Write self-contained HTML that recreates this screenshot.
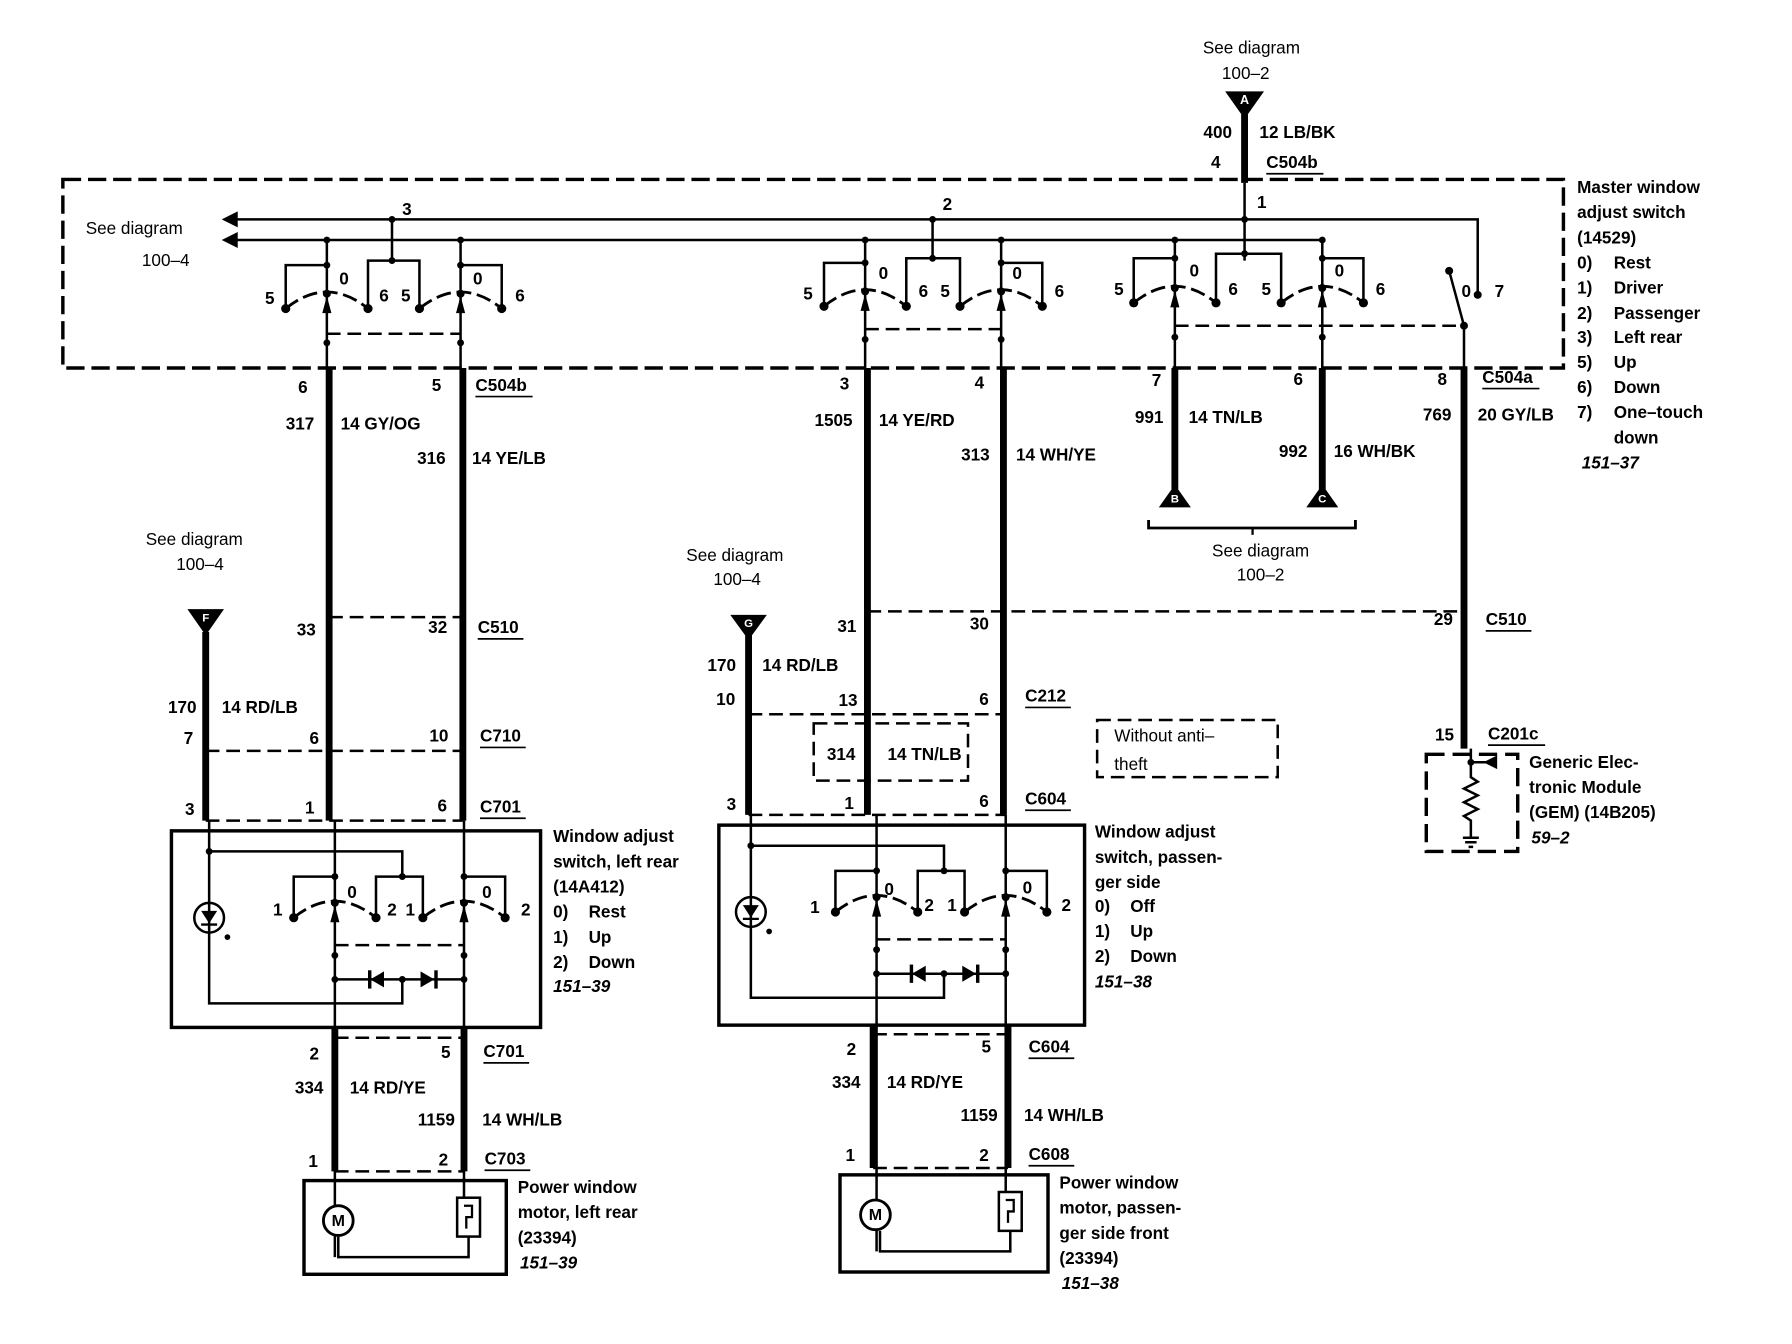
<!DOCTYPE html>
<html><head><meta charset="utf-8"><style>
html,body{margin:0;padding:0;background:#fff;}
svg{display:block;}
text{font-family:"Liberation Sans",Arial,sans-serif;font-size:15px;font-weight:bold;fill:#000;dominant-baseline:middle;}
.it{font-style:italic;}
.n{font-weight:normal;}
</style></head><body>
<svg width="1792" height="1344" viewBox="0 0 1568 1176" preserveAspectRatio="none" xmlns="http://www.w3.org/2000/svg">
<rect width="1568" height="1176" fill="#fff"/>
<defs>
<g id="sw">
 <path d="M-36,13 Q0,-16 36,13" fill="none" stroke="#000" stroke-width="2.5" stroke-dasharray="13 5"/>
 <circle cx="-36" cy="13" r="4"/><circle cx="36" cy="13" r="4"/><circle cx="0" cy="0" r="3.5"/>
 <polygon points="-4,17 4,17 0,2"/>
</g>
<g id="low">
 <g fill="none" stroke="#000" stroke-width="2.2">
  <path d="M183,718 V878 H352 V857"/>
  <path d="M183,745 H352 V767"/>
  <path d="M257,803 V767 H293"/>
  <path d="M329,803 V767 H370 V803"/>
  <path d="M406,767 H442 V803"/>
  <path d="M293,857 H406"/>
  <path d="M293,827 H406" stroke-dasharray="12 6"/>
  <circle cx="183" cy="803" r="13"/>
 </g>
 <polygon points="176,797 190,797 183,808"/><path d="M176,809 H190" stroke="#000" stroke-width="2"/>
 <circle cx="199" cy="820" r="2.5"/>
 <circle cx="183" cy="745" r="3"/><circle cx="352" cy="767" r="3"/>
 <use href="#sw" x="293" y="790"/><use href="#sw" x="406" y="790"/>
 <circle cx="293" cy="767" r="3"/><circle cx="406" cy="767" r="3"/>
 <circle cx="293" cy="836" r="3"/><circle cx="406" cy="836" r="3"/>
 <circle cx="293" cy="857" r="3"/><circle cx="406" cy="857" r="3"/><circle cx="352" cy="857" r="3"/>
 <polygon points="324,857 336,850 336,864"/><rect x="322" y="849" width="3" height="16"/>
 <polygon points="380,857 368,850 368,864"/><rect x="380" y="849" width="3" height="16"/>
 <g stroke="#000" stroke-width="2.2" fill="none">
  <path d="M293,718 V1100"/><path d="M406,718 V1080"/>
  <path d="M296,1082 V1100 H410 V1082"/>
 </g>
</g>
</defs>

<text x="1095" y="43" text-anchor="middle" class="n">See diagram</text>
<text x="1090" y="65" text-anchor="middle" class="n">100–2</text>
<polygon points="1072,80 1106,80 1089,104"/>
<text x="1089" y="88" text-anchor="middle" style="fill:#fff;font-size:11px">A</text>
<path d="M1089,100 V160" stroke="#000" stroke-width="6"/>
<path d="M1089,160 V228" stroke="#000" stroke-width="2.2"/>
<text x="1078" y="117" text-anchor="end">400</text><text x="1102" y="117">12 LB/BK</text>
<text x="1068" y="143" text-anchor="end">4</text><text x="1108" y="143">C504b</text>
<path d="M1108,152 H1158" stroke="#000" stroke-width="1.5"/>

<rect x="55" y="157" width="1313" height="165" fill="none" stroke="#000" stroke-width="3" stroke-dasharray="16 6"/>
<text x="75" y="201" class="n">See diagram</text>
<text x="145" y="229" text-anchor="middle" class="n">100–4</text>

<g fill="none" stroke="#000" stroke-width="2.2">
 <path d="M204,192 H1293 V255"/>
 <path d="M204,210 H1157"/>
 <path d="M286,210 V322 M403,210 V322"/>
 <path d="M250,270 V232 H286 M322,270 V228 H367 V270 M343,192 V228 M403,232 H439 V270"/>
 <path d="M286,292 H403" stroke-dasharray="12 6"/>
 <path d="M757,210 V322 M876,210 V322"/>
 <path d="M721,268 V230 H757 M793,268 V226 H840 V268 M816,192 V226 M876,230 H912 V268"/>
 <path d="M757,288 H876" stroke-dasharray="12 6"/>
 <path d="M1028,210 V322 M1157,210 V322"/>
 <path d="M992,265 V226 H1028 M1064,265 V222 H1121 V265 M1157,226 H1193 V265"/>
 <path d="M1028,285 H1281" stroke-dasharray="12 6"/>
 <path d="M1268,237 L1281,285 V322"/>
</g>
<polygon points="194,192 208,185 208,199"/><polygon points="194,210 208,203 208,217"/>
<text x="356" y="184" text-anchor="middle">3</text><text x="829" y="180" text-anchor="middle">2</text><text x="1104" y="178" text-anchor="middle">1</text>
<g>
 <circle cx="343" cy="192" r="3"/><circle cx="816" cy="192" r="3"/><circle cx="1089" cy="192" r="3"/>
 <circle cx="286" cy="210" r="3"/><circle cx="403" cy="210" r="3"/><circle cx="757" cy="210" r="3"/><circle cx="876" cy="210" r="3"/><circle cx="1028" cy="210" r="3"/><circle cx="1157" cy="210" r="3"/>
 <circle cx="343" cy="228" r="3"/><circle cx="816" cy="226" r="3"/><circle cx="1089" cy="222" r="3"/>
 <circle cx="286" cy="232" r="3"/><circle cx="403" cy="232" r="3"/><circle cx="757" cy="230" r="3"/><circle cx="876" cy="230" r="3"/><circle cx="1028" cy="226" r="3"/><circle cx="1157" cy="226" r="3"/>
 <circle cx="286" cy="300" r="3"/><circle cx="403" cy="300" r="3"/><circle cx="757" cy="297" r="3"/><circle cx="876" cy="297" r="3"/><circle cx="1028" cy="295" r="3"/><circle cx="1157" cy="295" r="3"/>
 <circle cx="1268" cy="237" r="3.5"/><circle cx="1293" cy="258" r="3.5"/><circle cx="1281" cy="285" r="3.5"/>
</g>
<use href="#sw" x="286" y="257"/><use href="#sw" x="403" y="257"/>
<use href="#sw" x="757" y="255"/><use href="#sw" x="876" y="255"/>
<use href="#sw" x="1028" y="252"/><use href="#sw" x="1157" y="252"/>
<text x="236" y="262" text-anchor="middle">5</text><text x="301" y="245" text-anchor="middle">0</text><text x="336" y="260" text-anchor="middle">6</text><text x="355" y="260" text-anchor="middle">5</text><text x="418" y="245" text-anchor="middle">0</text><text x="455" y="260" text-anchor="middle">6</text>
<text x="707" y="258" text-anchor="middle">5</text><text x="773" y="240" text-anchor="middle">0</text><text x="808" y="256" text-anchor="middle">6</text><text x="827" y="256" text-anchor="middle">5</text><text x="890" y="240" text-anchor="middle">0</text><text x="927" y="256" text-anchor="middle">6</text>
<text x="979" y="254" text-anchor="middle">5</text><text x="1045" y="238" text-anchor="middle">0</text><text x="1079" y="254" text-anchor="middle">6</text><text x="1108" y="254" text-anchor="middle">5</text><text x="1172" y="238" text-anchor="middle">0</text><text x="1208" y="254" text-anchor="middle">6</text>
<text x="1283" y="256" text-anchor="middle">0</text><text x="1312" y="256" text-anchor="middle">7</text>

<text x="1380" y="165">Master window</text>
<text x="1380" y="187">adjust switch</text>
<text x="1380" y="209">(14529)</text>
<text x="1380" y="231">0)</text><text x="1412" y="231">Rest</text>
<text x="1380" y="253">1)</text><text x="1412" y="253">Driver</text>
<text x="1380" y="275">2)</text><text x="1412" y="275">Passenger</text>
<text x="1380" y="296">3)</text><text x="1412" y="296">Left rear</text>
<text x="1380" y="318">5)</text><text x="1412" y="318">Up</text>
<text x="1380" y="340">6)</text><text x="1412" y="340">Down</text>
<text x="1380" y="362">7)</text><text x="1412" y="362">One–touch</text>
<text x="1412" y="384">down</text>
<text x="1384" y="406" class="it">151–37</text>

<g stroke="#000" stroke-width="6" fill="none">
 <path d="M288,322 V718 M405,322 V718"/>
 <path d="M180,553 V718"/>
 <path d="M293,899 V1025 M406,899 V1025"/>
 <path d="M759,322 V713 M878,322 V713"/>
 <path d="M655,556 V713"/>
 <path d="M764,897 V1022 M882,897 V1022"/>
 <path d="M1028,322 V428 M1157,322 V428"/>
 <path d="M1281,322 V655"/>
</g>
<g stroke="#000" stroke-width="2.2" fill="none" stroke-dasharray="12 6">
 <path d="M288,540 H405"/><path d="M180,657 H405"/><path d="M180,718 H405"/>
 <path d="M293,908 H406"/><path d="M293,1025 H406"/>
 <path d="M759,535 H1281"/><path d="M655,625 H880"/><path d="M655,713 H880"/>
 <path d="M764,905 H882"/><path d="M764,1022 H882"/>
 <rect x="712" y="633" width="135" height="50"/>
 <rect x="960" y="630" width="158" height="50"/>
</g>
<rect x="1248" y="660" width="80" height="85" fill="none" stroke="#000" stroke-width="3" stroke-dasharray="16 7"/>

<text x="265" y="340" text-anchor="middle">6</text><text x="382" y="338" text-anchor="middle">5</text><text x="416" y="338">C504b</text><path d="M416,347 H466" stroke="#000" stroke-width="1.5"/>
<text x="275" y="372" text-anchor="end">317</text><text x="298" y="372">14 GY/OG</text>
<text x="390" y="402" text-anchor="end">316</text><text x="413" y="402">14 YE/LB</text>
<text x="170" y="473" text-anchor="middle" class="n">See diagram</text><text x="175" y="495" text-anchor="middle" class="n">100–4</text>
<polygon points="164,533 196,533 180,556"/><text x="180" y="541" text-anchor="middle" style="fill:#fff;font-size:10px">F</text>
<text x="268" y="552" text-anchor="middle">33</text><text x="383" y="550" text-anchor="middle">32</text><text x="418" y="550">C510</text><path d="M418,559 H458" stroke="#000" stroke-width="1.5"/>
<text x="172" y="620" text-anchor="end">170</text><text x="194" y="620">14 RD/LB</text>
<text x="165" y="647" text-anchor="middle">7</text><text x="275" y="647" text-anchor="middle">6</text><text x="384" y="645" text-anchor="middle">10</text><text x="420" y="645">C710</text><path d="M420,654 H460" stroke="#000" stroke-width="1.5"/>
<text x="166" y="709" text-anchor="middle">3</text><text x="271" y="708" text-anchor="middle">1</text><text x="387" y="706" text-anchor="middle">6</text><text x="420" y="707">C701</text><path d="M420,716 H460" stroke="#000" stroke-width="1.5"/>

<rect x="150" y="727" width="323" height="172" fill="none" stroke="#000" stroke-width="3"/>
<use href="#low"/>
<text x="243" y="797" text-anchor="middle">1</text><text x="308" y="782" text-anchor="middle">0</text><text x="343" y="797" text-anchor="middle">2</text><text x="359" y="797" text-anchor="middle">1</text><text x="426" y="782" text-anchor="middle">0</text><text x="460" y="797" text-anchor="middle">2</text>
<text x="484" y="733">Window adjust</text><text x="484" y="755">switch, left rear</text><text x="484" y="777">(14A412)</text>
<text x="484" y="799">0)</text><text x="515" y="799">Rest</text><text x="484" y="821">1)</text><text x="515" y="821">Up</text><text x="484" y="843">2)</text><text x="515" y="843">Down</text>
<text x="484" y="864" class="it">151–39</text>
<text x="275" y="923" text-anchor="middle">2</text><text x="390" y="922" text-anchor="middle">5</text><text x="423" y="921">C701</text><path d="M423,930 H463" stroke="#000" stroke-width="1.5"/>
<text x="283" y="953" text-anchor="end">334</text><text x="306" y="953">14 RD/YE</text>
<text x="398" y="981" text-anchor="end">1159</text><text x="422" y="981">14 WH/LB</text>
<text x="274" y="1017" text-anchor="middle">1</text><text x="388" y="1016" text-anchor="middle">2</text><text x="424" y="1015">C703</text><path d="M424,1024 H464" stroke="#000" stroke-width="1.5"/>
<rect x="266" y="1033" width="177" height="82" fill="none" stroke="#000" stroke-width="3"/>
<circle cx="296" cy="1068" r="13" fill="#fff" stroke="#000" stroke-width="2.5"/><text x="296" y="1069" text-anchor="middle" style="font-size:14px">M</text>
<rect x="400" y="1048" width="20" height="34" fill="#fff" stroke="#000" stroke-width="2.2"/><path d="M406,1055 H413 V1065 H408 V1075" fill="none" stroke="#000" stroke-width="2"/>
<text x="453" y="1040">Power window</text><text x="453" y="1062">motor, left rear</text><text x="453" y="1084">(23394)</text><text x="455" y="1106" class="it">151–39</text>

<text x="739" y="337" text-anchor="middle">3</text><text x="857" y="336" text-anchor="middle">4</text>
<text x="746" y="369" text-anchor="end">1505</text><text x="769" y="369">14 YE/RD</text>
<text x="866" y="399" text-anchor="end">313</text><text x="889" y="399">14 WH/YE</text>
<text x="643" y="487" text-anchor="middle" class="n">See diagram</text><text x="645" y="508" text-anchor="middle" class="n">100–4</text>
<polygon points="639,538 671,538 655,560"/><text x="655" y="546" text-anchor="middle" style="fill:#fff;font-size:10px">G</text>
<text x="741" y="549" text-anchor="middle">31</text><text x="857" y="547" text-anchor="middle">30</text>
<text x="644" y="583" text-anchor="end">170</text><text x="667" y="583">14 RD/LB</text>
<text x="635" y="613" text-anchor="middle">10</text><text x="742" y="614" text-anchor="middle">13</text><text x="861" y="613" text-anchor="middle">6</text><text x="897" y="610">C212</text><path d="M897,619 H937" stroke="#000" stroke-width="1.5"/>
<text x="736" y="661" text-anchor="middle">314</text><text x="809" y="661" text-anchor="middle">14 TN/LB</text>
<text x="975" y="645" class="n">Without anti–</text><text x="975" y="670" class="n">theft</text>
<text x="640" y="705" text-anchor="middle">3</text><text x="743" y="704" text-anchor="middle">1</text><text x="861" y="702" text-anchor="middle">6</text><text x="897" y="700">C604</text><path d="M897,709 H937" stroke="#000" stroke-width="1.5"/>
<rect x="629" y="722" width="320" height="175" fill="none" stroke="#000" stroke-width="3"/>
<g transform="translate(474,-5)"><use href="#low"/></g>
<text x="713" y="795" text-anchor="middle">1</text><text x="778" y="779" text-anchor="middle">0</text><text x="813" y="793" text-anchor="middle">2</text><text x="833" y="793" text-anchor="middle">1</text><text x="899" y="778" text-anchor="middle">0</text><text x="933" y="793" text-anchor="middle">2</text>
<text x="958" y="729">Window adjust</text><text x="958" y="751">switch, passen-</text><text x="958" y="773">ger side</text>
<text x="958" y="794">0)</text><text x="989" y="794">Off</text><text x="958" y="816">1)</text><text x="989" y="816">Up</text><text x="958" y="838">2)</text><text x="989" y="838">Down</text>
<text x="958" y="860" class="it">151–38</text>
<text x="745" y="919" text-anchor="middle">2</text><text x="863" y="917" text-anchor="middle">5</text><text x="900" y="917">C604</text><path d="M900,926 H940" stroke="#000" stroke-width="1.5"/>
<text x="753" y="948" text-anchor="end">334</text><text x="776" y="948">14 RD/YE</text>
<text x="873" y="977" text-anchor="end">1159</text><text x="896" y="977">14 WH/LB</text>
<text x="744" y="1012" text-anchor="middle">1</text><text x="861" y="1012" text-anchor="middle">2</text><text x="900" y="1011">C608</text><path d="M900,1020 H940" stroke="#000" stroke-width="1.5"/>
<rect x="735" y="1028" width="182" height="85" fill="none" stroke="#000" stroke-width="3"/>
<circle cx="766" cy="1063" r="13" fill="#fff" stroke="#000" stroke-width="2.5"/><text x="766" y="1064" text-anchor="middle" style="font-size:14px">M</text>
<rect x="874" y="1043" width="20" height="34" fill="#fff" stroke="#000" stroke-width="2.2"/><path d="M880,1050 H887 V1060 H882 V1070" fill="none" stroke="#000" stroke-width="2"/>
<text x="927" y="1036">Power window</text><text x="927" y="1058">motor, passen-</text><text x="927" y="1080">ger side front</text><text x="927" y="1102">(23394)</text><text x="929" y="1124" class="it">151–38</text>

<text x="1012" y="334" text-anchor="middle">7</text><text x="1136" y="333" text-anchor="middle">6</text>
<text x="1018" y="366" text-anchor="end">991</text><text x="1040" y="366">14 TN/LB</text>
<text x="1144" y="396" text-anchor="end">992</text><text x="1167" y="396">16 WH/BK</text>
<polygon points="1028,424 1014,444 1042,444"/><text x="1028" y="437" text-anchor="middle" style="fill:#fff;font-size:10px">B</text>
<polygon points="1157,424 1143,444 1171,444"/><text x="1157" y="437" text-anchor="middle" style="fill:#fff;font-size:10px">C</text>
<path d="M1005,455 V462 H1186 V455" fill="none" stroke="#000" stroke-width="2.5"/><path d="M1096,462 V468" stroke="#000" stroke-width="2"/>
<text x="1103" y="483" text-anchor="middle" class="n">See diagram</text><text x="1103" y="504" text-anchor="middle" class="n">100–2</text>
<text x="1262" y="333" text-anchor="middle">8</text><text x="1297" y="331">C504a</text><path d="M1297,340 H1347" stroke="#000" stroke-width="1.5"/>
<text x="1270" y="364" text-anchor="end">769</text><text x="1293" y="364">20 GY/LB</text>
<text x="1263" y="543" text-anchor="middle">29</text><text x="1300" y="543">C510</text><path d="M1300,552 H1340" stroke="#000" stroke-width="1.5"/>
<text x="1264" y="644" text-anchor="middle">15</text><text x="1302" y="643">C201c</text><path d="M1302,652 H1352" stroke="#000" stroke-width="1.5"/>
<g fill="none" stroke="#000" stroke-width="2.2">
 <path d="M1287,655 V680 L1293,684 L1281,690 L1293,696 L1281,702 L1293,708 L1281,714 L1287,718 V732"/>
 <path d="M1287,667 H1304"/>
 <path d="M1280,733 H1294 M1282,737 H1292 M1285,741 H1289"/>
</g>
<polygon points="1298,667 1310,661 1310,673"/><circle cx="1287" cy="667" r="3"/>
<text x="1338" y="668">Generic Elec-</text><text x="1338" y="690">tronic Module</text><text x="1338" y="712">(GEM) (14B205)</text><text x="1340" y="734" class="it">59–2</text>
</svg>
</body></html>
